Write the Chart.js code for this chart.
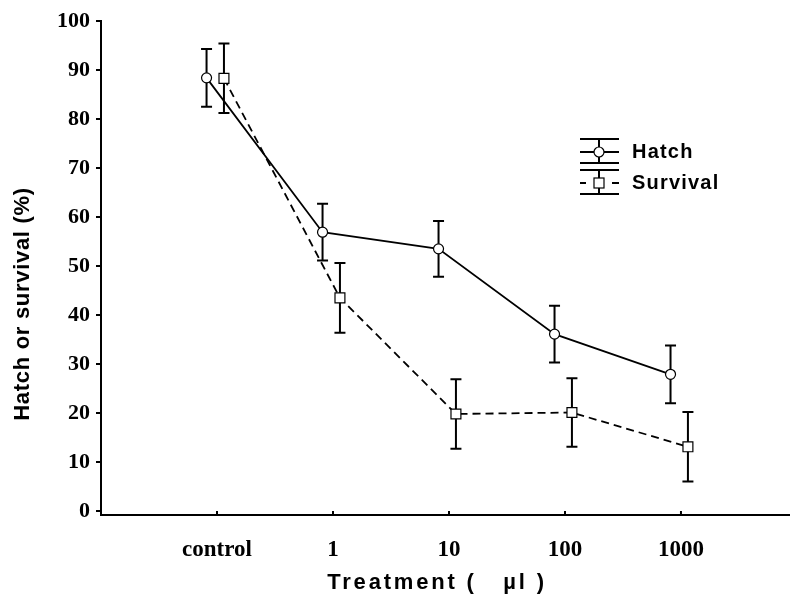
<!DOCTYPE html>
<html>
<head>
<meta charset="utf-8">
<script src="https://cdn.jsdelivr.net/npm/chart.js@4.4.1/dist/chart.umd.min.js"></script>
<style>
    body { margin: 0; background: #fff; }
    canvas { display: block; }
</style>
</head>
<body>
<canvas id="grafico" width="790" height="599"></canvas>
<script>
// dados
const categorias = ['control', '1', '10', '100', '1000'];
const hatch = [88.4, 56.9, 53.5, 36.1, 27.9];
const hatchErro = [5.9, 5.8, 5.7, 5.8, 5.9];
const survival = [88.3, 43.5, 19.8, 20.1, 13.1];
const survivalErro = [7.1, 7.1, 7.1, 7.0, 7.1];
const ticksY = [0, 10, 20, 30, 40, 50, 60, 70, 80, 90, 100];

// deslocamento horizontal das séries em cada categoria
const deslocHatch = -0.09;
const deslocSurvival = 0.06;

const ctx = document.getElementById('grafico');

function pontos(valores, desloc) {
    return valores.map((v, i) => ({ x: i + desloc, y: v }));
}

// barras de erro, marcas do eixo x, títulos e legenda
let pluginExtras = {
    id: 'extras',
    beforeDatasetsDraw: function (chart) {
        let c = chart.ctx;
        let sx = chart.scales.x;
        let sy = chart.scales.y;
        let series = [
            { valores: hatch, erros: hatchErro, desloc: deslocHatch },
            { valores: survival, erros: survivalErro, desloc: deslocSurvival }
        ];
        c.save();
        c.strokeStyle = '#000';
        c.lineWidth = 2;
        series.forEach(s => {
            s.valores.forEach((v, i) => {
                let x = sx.getPixelForValue(i + s.desloc);
                let yTop = sy.getPixelForValue(v + s.erros[i]);
                let yBot = sy.getPixelForValue(v - s.erros[i]);
                c.beginPath();
                c.moveTo(x, yTop); c.lineTo(x, yBot);
                c.moveTo(x - 5.5, yTop); c.lineTo(x + 5.5, yTop);
                c.moveTo(x - 5.5, yBot); c.lineTo(x + 5.5, yBot);
                c.stroke();
            });
        });
        c.restore();
    },
    afterDraw: function (chart) {
        let c = chart.ctx;
        let sx = chart.scales.x;
        let area = chart.chartArea;
        c.save();
        c.strokeStyle = '#000';
        c.fillStyle = '#000';
        c.lineWidth = 2;

        // marcas do eixo x voltadas para dentro
        categorias.forEach((cat, i) => {
            let x = sx.getPixelForValue(i);
            c.beginPath();
            c.moveTo(x, area.bottom);
            c.lineTo(x, area.bottom - 4);
            c.stroke();
        });

        // títulos dos eixos
        c.font = 'bold 22px "Liberation Sans", Arial, sans-serif';
        c.letterSpacing = '2.8px';
        c.textAlign = 'center';
        c.textBaseline = 'middle';
        c.fillText('Treatment (   µl )', 437, 583);

        c.save();
        c.translate(23, 304);
        c.rotate(-Math.PI / 2);
        c.font = 'bold 22px "Liberation Sans", Arial, sans-serif';
        c.letterSpacing = '0.7px';
        c.fillText('Hatch or survival (%)', 0, 0);
        c.restore();

        // legenda
        let lx = 599;
        c.lineWidth = 2;
        // Hatch
        c.beginPath();
        c.moveTo(580, 139); c.lineTo(619, 139);
        c.moveTo(580, 163); c.lineTo(619, 163);
        c.moveTo(580, 152); c.lineTo(619, 152);
        c.moveTo(lx, 139); c.lineTo(lx, 163);
        c.stroke();
        c.beginPath();
        c.arc(lx, 152, 5, 0, Math.PI * 2);
        c.fillStyle = '#fff';
        c.fill();
        c.lineWidth = 1.2;
        c.stroke();
        // Survival
        c.lineWidth = 2;
        c.beginPath();
        c.moveTo(580, 170); c.lineTo(619, 170);
        c.moveTo(580, 194); c.lineTo(619, 194);
        c.moveTo(580, 183); c.lineTo(586, 183);
        c.moveTo(612, 183); c.lineTo(619, 183);
        c.moveTo(lx, 170); c.lineTo(lx, 194);
        c.stroke();
        c.fillStyle = '#fff';
        c.fillRect(lx - 5, 178, 10, 10);
        c.lineWidth = 1.2;
        c.strokeRect(lx - 5, 178, 10, 10);

        c.fillStyle = '#000';
        c.font = 'bold 20px "Liberation Sans", Arial, sans-serif';
        c.letterSpacing = '1.2px';
        c.textAlign = 'left';
        c.fillText('Hatch', 632, 152);
        c.fillText('Survival', 632, 183);
        c.restore();
    }
};

new Chart(ctx, {
    type: 'scatter',
    data: {
        datasets: [
            {
                label: 'Hatch',
                data: pontos(hatch, deslocHatch),
                showLine: true,
                borderColor: '#000',
                borderWidth: 1.8,
                pointStyle: 'circle',
                pointRadius: 5,
                pointBorderWidth: 1.2,
                pointBackgroundColor: '#fff',
                pointBorderColor: '#000'
            },
            {
                label: 'Survival',
                data: pontos(survival, deslocSurvival),
                showLine: true,
                borderColor: '#000',
                borderWidth: 1.8,
                borderDash: [8, 5],
                pointStyle: 'rect',
                pointRadius: 7,
                pointBorderWidth: 1.2,
                pointBackgroundColor: '#fff',
                pointBorderColor: '#000'
            }
        ]
    },
    options: {
        responsive: false,
        animation: false,
        layout: {
            autoPadding: false,
            padding: { top: 21, right: 0, bottom: 0, left: 0 }
        },
        scales: {
            x: {
                type: 'linear',
                min: -1,
                max: 4.94,
                afterBuildTicks: function (scale) {
                    scale.ticks = categorias.map((c, i) => ({ value: i }));
                },
                afterFit: function (scale) {
                    scale.height = 84;
                },
                grid: { display: false },
                border: { display: true, color: '#000', width: 2 },
                ticks: {
                    autoSkip: false,
                    maxRotation: 0,
                    padding: 13,
                    color: '#000',
                    font: { family: '"Liberation Serif", "Times New Roman", serif', size: 23, weight: 'bold' },
                    callback: function (value) {
                        return categorias[value];
                    }
                }
            },
            y: {
                min: -0.816,
                max: 100,
                afterBuildTicks: function (scale) {
                    scale.ticks = ticksY.map(v => ({ value: v }));
                },
                afterFit: function (scale) {
                    scale.width = 101;
                },
                grid: {
                    drawOnChartArea: false,
                    drawTicks: true,
                    tickLength: 5,
                    color: '#000',
                    lineWidth: 2
                },
                border: { display: true, color: '#000', width: 2 },
                ticks: {
                    autoSkip: false,
                    padding: 6,
                    color: '#000',
                    font: { family: '"Liberation Serif", "Times New Roman", serif', size: 22, weight: 'bold' }
                }
            }
        },
        plugins: {
            legend: { display: false },
            tooltip: { enabled: false }
        }
    },
    plugins: [pluginExtras]
});
</script>
</body>
</html>
